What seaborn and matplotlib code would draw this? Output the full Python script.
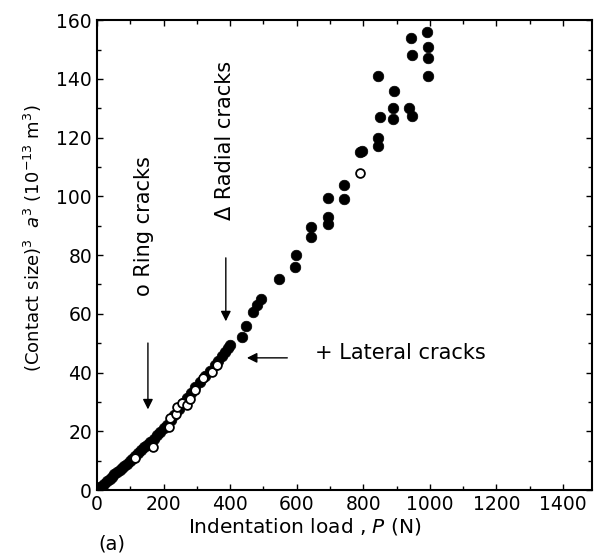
import matplotlib
matplotlib.use("Agg")
import matplotlib.pyplot as plt
import seaborn as sns
import pandas as pd

# Filled symbols (indentation load P in N, a^3 in 1e-13 m^3)
filled_P = [5, 10, 15, 22, 30, 38, 45, 52, 60, 68, 75, 82, 90, 98, 106, 115, 124, 133,
            142, 150, 160, 170, 180, 190, 200, 210, 222, 232, 245, 258, 270, 282, 295,
            310, 325, 340, 355, 365, 375, 385, 393, 400,
            435, 447, 468, 480, 492, 547, 595, 598, 643, 643, 694, 694, 694, 742, 742,
            790, 796, 844, 844, 844, 850, 889, 889, 892, 937, 946, 943, 946, 991, 994,
            994, 994]
filled_a3 = [0.5, 1.0, 1.5, 2.2, 3.0, 3.8, 4.5, 5.3, 6.0, 6.8, 7.6, 8.3, 9.0, 9.8, 10.6,
             11.6, 12.5, 13.5, 14.5, 15.3, 16.4, 17.5, 18.6, 19.8, 21.0, 22.3, 24.0, 25.5,
             27.5, 29.5, 31.5, 33.0, 35.0, 36.8, 38.8, 40.5, 42.5, 44.0, 45.5, 47.0, 48.5,
             49.5,
             52, 55.7, 60.5, 63, 65, 72, 76, 80, 86, 89.6, 90.6, 93, 99.6, 99, 104,
             115, 115.5, 117, 120, 141, 127, 126.5, 130, 136, 130, 127.5, 154, 148, 156,
             151, 147, 141]

# Open symbols (ring cracks)
open_P = [114, 168, 216, 219, 237, 240, 255, 270, 280, 294, 318, 345, 360, 790]
open_a3 = [11, 14.7, 21.5, 24.6, 26, 28.4, 29.5, 29, 31, 34, 38, 40.3, 42.7, 108]

x_ticks = [0, 200, 400, 600, 800, 1000, 1200, 1400]
y_ticks = [0, 20, 40, 60, 80, 100, 120, 140, 160]

df_f = pd.DataFrame({"P": filled_P, "a3": filled_a3})
df_o = pd.DataFrame({"P": open_P, "a3": open_a3})

sns.set_style("ticks")
plt.rcParams['font.family'] = ['DejaVu Sans']
plt.rcParams['text.color'] = 'black'
plt.rcParams['axes.labelcolor'] = 'black'
plt.rcParams['xtick.color'] = 'black'
plt.rcParams['ytick.color'] = 'black'

fig = plt.figure(figsize=(5.95, 5.6), dpi=100)
ax = fig.add_axes([0.163, 0.125, 0.832, 0.839])

sns.scatterplot(data=df_f, x="P", y="a3", ax=ax, color="black", s=58,
                edgecolor="black", linewidth=0.5, zorder=3)
sns.scatterplot(data=df_o, x="P", y="a3", ax=ax, color="white", s=40,
                edgecolor="black", linewidth=1.3, zorder=4)

ax.set_xlim(0, 1487)
ax.set_ylim(0, 160)
ax.set_xticks(x_ticks)
ax.set_yticks(y_ticks)
ax.set_xticks(range(0, 1487, 100), minor=True)
ax.set_yticks(range(0, 161, 10), minor=True)
ax.tick_params(which="both", direction="in", top=True, right=True, labelsize=13.5,
               width=1.0, color="black", labelcolor="black")
ax.tick_params(which="major", length=4)
ax.tick_params(which="minor", length=3)
for sp in ax.spines.values():
    sp.set_linewidth(1.5)
    sp.set_color("black")

ax.set_xlabel("Indentation load , $P$ (N)", fontsize=14.5, labelpad=4)
ax.xaxis.set_label_coords(0.42, -0.055)
ax.set_ylabel("(Contact size)$^3$  $a^3$ (10$^{-13}$ m$^3$)", fontsize=13)
ax.yaxis.set_label_coords(-0.108, 0.535)
fig.text(0.165, 0.018, "(a)", fontsize=14)

# Annotations
ax.text(140, 90, "o Ring cracks", rotation=90, ha="center", va="center", fontsize=15)
ax.annotate("", xy=(153, 26.5), xytext=(153, 51),
            arrowprops=dict(arrowstyle="-|>", color="black", lw=1.0, mutation_scale=15))
ax.text(385, 119, "\u0394 Radial cracks", rotation=90, ha="center", va="center", fontsize=15)
ax.annotate("", xy=(387, 56.5), xytext=(387, 80),
            arrowprops=dict(arrowstyle="-|>", color="black", lw=1.0, mutation_scale=15))
ax.text(656, 46.5, "+ Lateral cracks", ha="left", va="center", fontsize=15)
ax.annotate("", xy=(442, 45), xytext=(580, 45),
            arrowprops=dict(arrowstyle="-|>", color="black", lw=1.0, mutation_scale=15))

fig.savefig("out.png", dpi=100)
